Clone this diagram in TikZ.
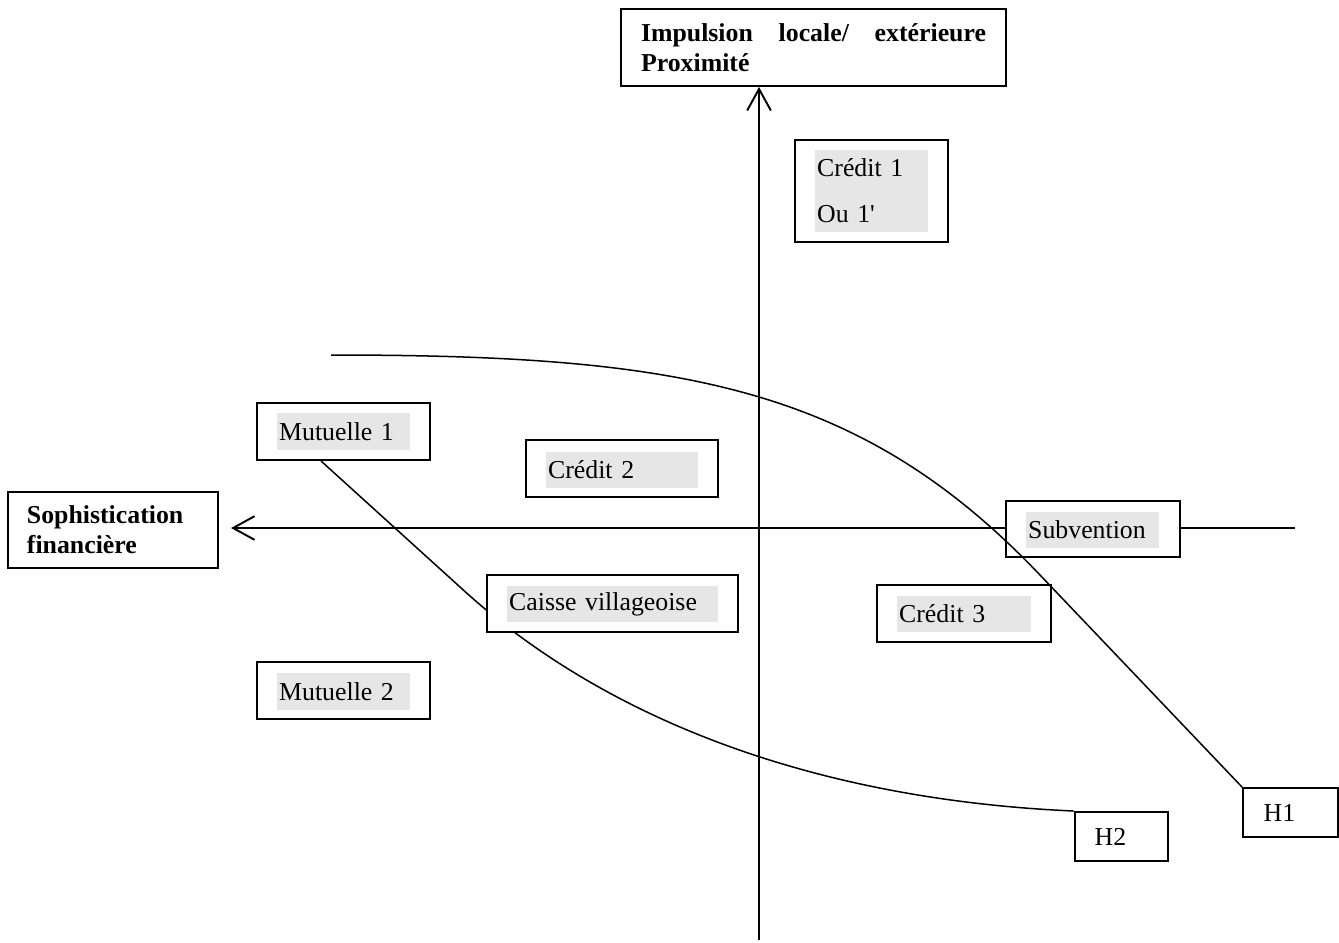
\documentclass[tikz,border=0pt]{standalone}
\usepackage{fontspec}
\setmainfont{Liberation Serif}
\newfontfamily\rawserif{Liberation Serif}
\usetikzlibrary{arrows.meta,calc}
\definecolor{shade}{HTML}{E6E6E6}
\pgfdeclarelayer{bg}
\pgfsetlayers{bg,main}
\begin{document}
\begin{tikzpicture}[x=0.465pt,y=-0.465pt,
  frame/.style={draw, line width=0.9pt, fill=white, inner sep=0pt},
  tag/.style={fill=shade, inner xsep=1pt, inner ysep=0pt, align=left, font=\fontsize{12}{14}\selectfont},
  head/.style={draw, line width=0.9pt, fill=white, align=left, font=\bfseries\fontsize{12}{14}\selectfont},
  hbox/.style={draw, line width=0.9pt, fill=white, align=left, inner xsep=9.3pt, inner ysep=0pt, text width=25pt, minimum height=22.8pt, font=\fontsize{12}{14}\selectfont},
  axis/.style={line width=0.9pt, -{Straight Barb[length=10pt,width=11pt,line width=0.9pt]}},
  curve/.style={line width=0.7pt}]
\useasboundingbox (0,0) rectangle (1339,942);

% header boxes
\node[head, minimum width=179pt, minimum height=35.8pt, text width=160.4pt, inner xsep=9.3pt] (imp) at (813.5,47.5)
  {Impulsion\hfill locale/\hfill extérieure\\Proximité};
\node[head, minimum width=97.7pt, minimum height=35.3pt, text width=80pt, inner xsep=8.85pt] (soph) at (113,530)
  {Sophistication\\financière};

% item boxes
\node[frame, minimum width=71.1pt, minimum height=47.4pt] (c1) at (871.5,191) {};
\node[tag, text width=50.5pt, minimum height=38.1pt, font=\rawserif\fontsize{12}{21.4}\selectfont] (c1t) at (871.5,191) {Crédit 1\\Ou 1'};

\node[frame, minimum width=80.4pt, minimum height=26.5pt] (m1) at (343.5,431.5) {};
\node[tag, text width=59.8pt, minimum height=17.2pt] (m1t) at (343.5,431.5) {Mutuelle 1};

\node[frame, minimum width=80.4pt, minimum height=26.5pt] (m2) at (343.5,690.5) {};
\node[tag, text width=59.8pt, minimum height=17.2pt] (m2t) at (343.5,691.5) {Mutuelle 2};

\node[frame, minimum width=89.3pt, minimum height=26.5pt] (c2) at (622,468.5) {};
\node[tag, text width=68.7pt, minimum height=16.7pt] (c2t) at (622,470) {Crédit 2};

\node[frame, minimum width=116.7pt, minimum height=26.5pt] (cv) at (612.5,603.5) {};
\node[tag, text width=96.1pt, minimum height=16.7pt] (cvt) at (612.5,604) {Caisse villageoise};

\node[frame, minimum width=80.9pt, minimum height=26.5pt] (c3) at (964,613.5) {};
\node[tag, text width=60.3pt, minimum height=16.7pt] (c3t) at (964,614) {Crédit 3};

\node[frame, minimum width=80.9pt, minimum height=26pt] (sub) at (1093,529) {};
\node[tag, text width=59.8pt, minimum height=16.7pt] (subt) at (1092.5,530) {Subvention};

\node[hbox, minimum width=44.2pt] (h1) at (1290.5,812.5) {H1};
\node[hbox, minimum width=43.2pt] (h2) at (1121.5,836.5) {H2};

% axes and curves
\coordinate (vb) at (759,940);
\coordinate (hr) at (1295,528);
\coordinate (h1s) at (331,355);
\begin{pgfonlayer}{bg}
  \draw[axis] (vb) -- (vb |- imp.south);
  \draw[axis, shorten >=5.6pt] (hr) -- (soph.east |- hr);
  \draw[curve] ($(m1.south)+(-22.5,0)$) -- (460,587)
     .. controls (610,725) and (825,800) .. (h2.north west);
\end{pgfonlayer}
\draw[curve] (h1s) .. controls (681,355) and (860,386) .. (1040,575) -- (h1.north west);
\end{tikzpicture}
\end{document}
